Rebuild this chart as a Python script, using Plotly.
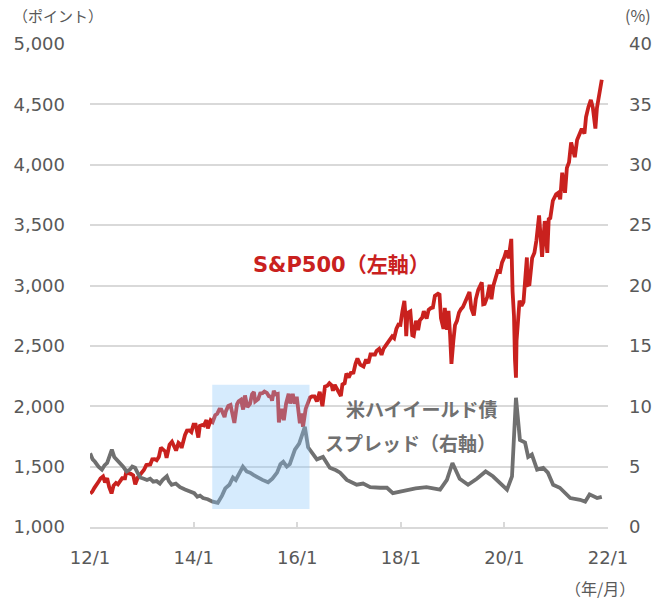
import plotly.graph_objects as go

# ---------------- data ----------------
sp_dates = [
    "2012-01-03","2012-01-17","2012-02-01","2012-02-15","2012-03-01","2012-03-15","2012-04-02","2012-04-16",
    "2012-05-01","2012-05-15","2012-06-01","2012-06-15","2012-07-02","2012-07-16","2012-08-01","2012-08-15",
    "2012-09-04","2012-09-14","2012-10-01","2012-10-15","2012-11-01","2012-11-15","2012-12-03","2012-12-17",
    "2013-01-02","2013-01-15","2013-02-01","2013-02-15","2013-03-01","2013-03-15","2013-04-01","2013-04-15",
    "2013-05-01","2013-05-15","2013-06-03","2013-06-14","2013-06-24","2013-07-01","2013-07-15","2013-08-01",
    "2013-08-15","2013-08-30","2013-09-16","2013-09-30","2013-10-08","2013-10-15","2013-11-01","2013-11-15",
    "2013-12-02","2013-12-16","2013-12-31",
    "2014-01-15","2014-02-03","2014-02-14","2014-03-03","2014-03-14","2014-04-01","2014-04-11","2014-05-01",
    "2014-05-15","2014-06-02","2014-06-16","2014-07-01","2014-07-15","2014-08-01","2014-08-07","2014-08-15",
    "2014-09-02","2014-09-18","2014-10-01","2014-10-15","2014-11-03","2014-11-14","2014-12-01","2014-12-16",
    "2014-12-29",
    "2015-01-15","2015-02-02","2015-02-17","2015-03-02","2015-03-11","2015-04-01","2015-04-15","2015-05-01",
    "2015-05-15","2015-06-01","2015-06-15","2015-07-01","2015-07-08","2015-07-20","2015-08-03","2015-08-17",
    "2015-08-25","2015-09-01","2015-09-15","2015-09-29","2015-10-15","2015-11-02","2015-11-13","2015-12-01",
    "2015-12-14","2015-12-29",
    "2016-01-11","2016-01-20","2016-02-01","2016-02-11","2016-03-01","2016-03-15","2016-04-01","2016-04-15",
    "2016-05-02","2016-05-19","2016-06-08","2016-06-27","2016-07-15","2016-08-01","2016-08-15","2016-09-01",
    "2016-09-09","2016-09-22","2016-10-14","2016-11-04","2016-11-15","2016-12-01","2016-12-13","2016-12-30",
    "2017-01-13","2017-02-01","2017-02-15","2017-03-01","2017-03-21","2017-04-13","2017-05-01","2017-05-17",
    "2017-06-01","2017-06-15","2017-07-03","2017-07-14","2017-08-01","2017-08-18","2017-09-01","2017-09-15",
    "2017-10-02","2017-10-16","2017-11-01","2017-11-15","2017-12-01","2017-12-15","2017-12-29",
    "2018-01-12","2018-01-26","2018-02-02","2018-02-08","2018-02-15","2018-02-26","2018-03-09","2018-03-23",
    "2018-04-02","2018-04-18","2018-05-03","2018-05-15","2018-06-01","2018-06-12","2018-07-02","2018-07-16",
    "2018-08-01","2018-08-15","2018-08-29","2018-09-20","2018-10-01","2018-10-11","2018-10-29","2018-11-07",
    "2018-11-23","2018-12-03","2018-12-14","2018-12-24",
    "2019-01-07","2019-01-18","2019-02-01","2019-02-15","2019-03-01","2019-03-15","2019-04-01","2019-04-15",
    "2019-04-30","2019-05-13","2019-05-31","2019-06-14","2019-07-01","2019-07-26","2019-08-05","2019-08-15",
    "2019-09-03","2019-09-19","2019-10-02","2019-10-15","2019-11-01","2019-11-15","2019-12-02","2019-12-16",
    "2019-12-31",
    "2020-01-15","2020-01-31","2020-02-19","2020-02-28","2020-03-09","2020-03-16","2020-03-23","2020-03-27",
    "2020-04-08","2020-04-17","2020-05-01","2020-05-15","2020-06-08","2020-06-11","2020-06-26","2020-07-15",
    "2020-07-31","2020-08-14","2020-09-02","2020-09-23","2020-10-12","2020-10-30","2020-11-09","2020-11-20",
    "2020-12-08","2020-12-31",
    "2021-01-15","2021-01-29","2021-02-12","2021-03-04","2021-03-17","2021-04-01","2021-04-16","2021-05-12",
    "2021-05-28","2021-06-15","2021-06-30","2021-07-19","2021-07-30","2021-08-16","2021-09-02","2021-09-16",
    "2021-10-04","2021-10-15","2021-11-01","2021-11-18",
]
sp_values = [
    1277,1293,1324,1343,1374,1402,1419,1369,
    1405,1331,1278,1343,1365,1353,1376,1405,
    1404,1465,1444,1440,1427,1354,1410,1430,
    1462,1472,1513,1519,1518,1561,1562,1553,
    1582,1658,1640,1626,1573,1614,1683,1706,
    1661,1633,1697,1682,1655,1698,1762,1798,
    1800,1786,1848,
    1848,1741,1838,1845,1841,1886,1816,1884,
    1870,1925,1937,1974,1973,1925,1910,1955,
    2002,2011,1947,1862,2017,2040,2054,1972,
    2090,
    1992,2020,2100,2117,2040,2059,2106,2108,
    2122,2111,2084,2077,2046,2128,2098,2102,
    1867,1914,1979,1884,2023,2104,2023,2102,
    2021,2078,
    1923,1859,1940,1829,1978,2016,2073,2081,
    2081,2040,2119,2001,2162,2170,2190,2171,
    2128,2177,2133,2085,2180,2191,2271,2239,
    2275,2279,2349,2396,2344,2329,2388,2357,
    2430,2433,2429,2459,2476,2426,2476,2500,
    2529,2557,2579,2564,2642,2676,2674,
    2786,2873,2762,2581,2732,2779,2786,2588,
    2582,2708,2630,2711,2735,2787,2726,2798,
    2813,2818,2914,2931,2924,2728,2641,2814,
    2633,2790,2600,2351,
    2549,2671,2707,2775,2804,2822,2867,2905,
    2946,2812,2752,2887,2964,3026,2845,2848,
    2906,3006,2887,2996,3067,3120,3114,3191,
    3231,
    3289,3225,3386,2954,2747,2386,2237,2541,
    2750,2875,2831,2864,3232,3002,3009,3227,
    3271,3373,3580,3237,3534,3270,3550,3558,
    3702,3756,
    3768,3714,3934,3768,3974,4020,4185,4063,
    4204,4246,4298,4258,4395,4479,4537,4473,
    4300,4471,4613,4704,
]

hy_dates = [
    "2012-01-02","2012-01-20","2012-02-05","2012-03-01","2012-03-25","2012-04-12","2012-05-01","2012-05-20",
    "2012-06-03","2012-06-20","2012-07-08","2012-07-28","2012-08-22","2012-09-15","2012-10-08","2012-10-25",
    "2012-11-14","2012-12-01","2012-12-20","2013-01-15","2013-02-06","2013-02-28","2013-03-22","2013-04-15",
    "2013-05-08","2013-05-28","2013-06-26","2013-07-10","2013-07-30","2013-08-28","2013-09-27","2013-11-01",
    "2013-12-06","2014-01-05","2014-01-27","2014-02-15","2014-03-08","2014-04-10","2014-05-15","2014-06-20",
    "2014-07-20","2014-08-12","2014-09-10","2014-10-05","2014-10-25","2014-12-14","2015-01-10","2015-02-03",
    "2015-03-01","2015-03-29","2015-05-01","2015-06-10","2015-07-10","2015-08-12","2015-09-05","2015-09-25",
    "2015-10-20","2015-11-10","2015-12-16","2016-01-15","2016-02-03","2016-02-24","2016-03-18","2016-04-20",
    "2016-05-19","2016-07-01","2016-08-18","2016-10-01","2016-10-30","2016-12-16","2017-02-24","2017-04-10",
    "2017-05-30","2017-08-08","2017-09-25","2017-11-06","2018-02-15","2018-04-15","2018-07-01","2018-10-05",
    "2018-11-22","2018-12-31","2019-02-20","2019-04-20","2019-06-21","2019-08-22","2019-10-12","2019-12-14",
    "2020-01-20","2020-02-24","2020-03-04","2020-03-23","2020-04-20","2020-05-26","2020-06-17","2020-07-13",
    "2020-08-19","2020-10-01","2020-11-03","2020-12-10","2021-01-26","2021-04-10","2021-06-18","2021-07-24",
    "2021-08-24","2021-10-16","2021-11-18",
]
hy_values = [
    6.1,5.6,5.4,5.0,4.75,5.1,5.3,5.9,
    6.4,5.8,5.6,5.3,5.0,4.6,4.75,5.0,
    4.9,4.5,4.1,4.0,3.9,4.0,3.75,3.8,
    3.6,3.9,4.2,3.8,3.5,3.6,3.3,3.1,
    2.9,2.8,2.5,2.6,2.4,2.3,2.1,2.0,
    2.6,3.2,3.5,4.1,3.9,5.0,4.6,4.5,
    4.3,4.1,3.9,3.7,4.0,4.5,5.2,5.4,
    5.0,5.2,6.4,6.9,7.7,8.3,6.6,6.1,
    5.6,5.8,4.9,4.7,4.5,3.9,3.5,3.6,
    3.3,3.25,3.25,2.8,3.1,3.2,3.3,3.1,
    3.9,5.3,4.0,3.5,4.0,4.6,4.2,3.5,
    3.1,4.2,6.4,10.7,7.2,7.0,5.8,6.0,
    4.75,4.9,4.5,3.5,3.25,2.4,2.25,2.1,
    2.7,2.4,2.5,
]

x_tick_vals = ["2012-01-01","2014-01-01","2016-01-01","2018-01-01","2020-01-01","2022-01-01"]
x_tick_text = ["12/1","14/1","16/1","18/1","20/1","22/1"]

shade_x = ["2014-05-12","2016-03-28"]
shade_y = [1149, 2178]

RED = "#C9211E"
GRAY = "#707070"
TXT = "#595959"
FONT = "DejaVu Sans, Verdana, Noto Sans CJK JP"
JFONT = "Noto Sans CJK JP, DejaVu Sans"

fig = go.Figure()
fig.add_trace(go.Scatter(x=sp_dates, y=sp_values, mode="lines", yaxis="y",
                         line=dict(color=RED, width=3.8), name="S&P500"))
fig.add_trace(go.Scatter(x=hy_dates, y=hy_values, mode="lines", yaxis="y2",
                         line=dict(color=GRAY, width=3.8), name="HY"))

fig.add_shape(type="rect", xref="x", yref="y", x0=shade_x[0], x1=shade_x[1],
              y0=shade_y[0], y1=shade_y[1], fillcolor="rgb(138,198,249)",
              opacity=0.35, line=dict(width=0), layer="above")

fig.update_layout(
    width=669, height=600,
    margin=dict(l=90, r=61, t=44, b=73, autoexpand=False),
    paper_bgcolor="white", plot_bgcolor="white",
    showlegend=False,
    font=dict(family=FONT, color=TXT, size=18),
    xaxis=dict(type="date", range=["2012-01-01","2022-01-01"], automargin=False,
               tickvals=x_tick_vals, ticktext=x_tick_text,
               showgrid=False, showline=True, linecolor="#d9d9d9", linewidth=1.5,
               ticks="inside", ticklen=5, tickcolor="#d9d9d9", tickwidth=1.5,
               ticklabelstandoff=14, tickfont=dict(size=18, color=TXT)),
    yaxis=dict(range=[1000,5000], dtick=500, tickformat=",", showgrid=True, automargin=False,
               gridcolor="#d9d9d9", gridwidth=1.5, zeroline=False, showline=False,
               ticks="", ticklabelstandoff=24, tickfont=dict(size=18, color=TXT)),
    yaxis2=dict(range=[0,40], dtick=5, overlaying="y", side="right", showgrid=False,
                automargin=False,
                zeroline=False, showline=False, ticks="", ticklabelstandoff=20,
                tickfont=dict(size=18, color=TXT)),
)

anns = [
    dict(text="（ポイント）", x=-0.062, y=1.06, font=dict(family=JFONT, size=15, color=TXT)),
    dict(text="(%)", x=1.058, y=1.06, font=dict(family=JFONT, size=16, color=TXT)),
    dict(text="（年/月）", x=0.985, y=-0.126, font=dict(family=JFONT, size=16, color=TXT)),
    dict(text="<b>S&P500（左軸）</b>", x=0.4846, y=0.542,
         font=dict(family=FONT, size=21, color=RED)),
    dict(text="<b>米ハイイールド債</b>", x=0.7915, y=0.246, xanchor="right",
         font=dict(family=JFONT, size=19, color=GRAY)),
    dict(text="<b>スプレッド（右軸）</b>", x=0.7875, y=0.174, xanchor="right",
         font=dict(family=JFONT, size=19, color=GRAY)),
]
for a in anns:
    a.setdefault("xanchor", "center")
    fig.add_annotation(xref="paper", yref="paper", showarrow=False, yanchor="middle", **a)

fig.write_html("out.html", config={"displayModeBar": False},
               post_script="document.body.style.margin='0px';document.body.style.overflow='hidden';")
